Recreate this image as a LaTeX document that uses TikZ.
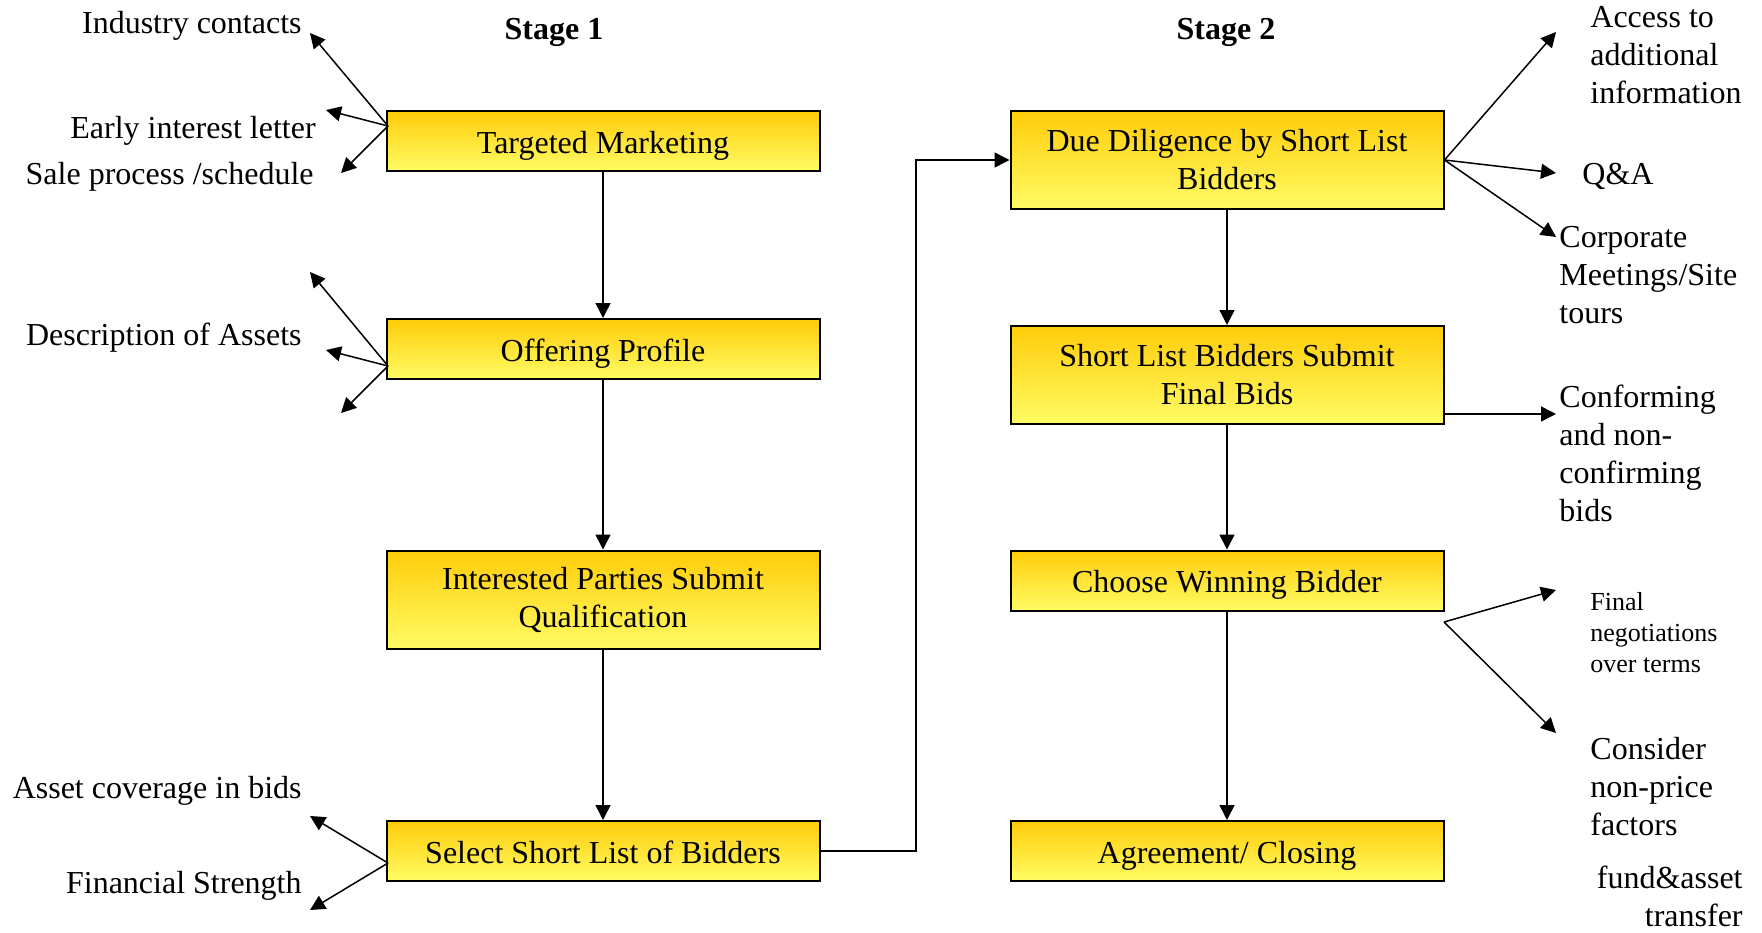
\documentclass[tikz,border=0pt]{standalone}
\usepackage{fontspec}
\setmainfont{Liberation Serif}
\usetikzlibrary{arrows.meta}

\definecolor{boxtop}{RGB}{255,204,10}
\definecolor{boxbot}{RGB}{255,252,100}

\tikzset{
  stepbox/.style={draw, line width=1pt, top color=boxtop, bottom color=boxbot,
    minimum width=216.5pt, minimum height=30pt, inner sep=0pt,
    text height=15.5pt, text depth=3.5pt},
  tallbox/.style={draw, line width=1pt, top color=boxtop, bottom color=boxbot,
    minimum width=216.5pt, minimum height=49pt, align=center, inner sep=0pt},
  lbl/.style={inner sep=0pt, align=left},
  small/.style={lbl, font=\fontsize{13}{15.5}\selectfont},
  arr/.style={-{Triangle[length=7.5pt,width=7.5pt]}, line width=0.75pt},
}

\begin{document}
\begin{tikzpicture}[x=0.5pt, y=-0.5pt, font=\fontsize{16}{19}\selectfont]

      \useasboundingbox (0,0) rectangle (1762,932);

      % Stage headings
      \node[font=\fontsize{16}{19}\bfseries] (st1) at (554,32.5) {Stage 1};
      \node[font=\fontsize{16}{19}\bfseries] (st2) at (1226,32.5) {Stage 2};

      % Stage 1 boxes
      \node[stepbox] (tm) at (603,141) {Targeted Marketing};
      \node[stepbox] (op) at (603,349) {Offering Profile};
      \node[tallbox] (ip) at (603,599.5) {Interested Parties Submit\\Qualification};
      \node[stepbox] (ss) at (603,851) {Select Short List of Bidders};

      % Stage 2 boxes
      \node[tallbox] (dd) at (1227,160) {Due Diligence by Short List\\Bidders};
      \node[tallbox] (sb) at (1227,375) {Short List Bidders Submit\\Final Bids};
      \node[stepbox] (cw) at (1227,580.5) {Choose Winning Bidder};
      \node[stepbox] (ac) at (1227,851) {Agreement/ Closing};

      % Main flow
      \draw[arr] (tm) -- (op);
      \draw[arr] (op) -- (ip);
      \draw[arr] (ip) -- (ss);
      \coordinate (jog) at (916,851);
      \draw[arr] (ss.east) -- (jog) |- (dd.west);
      \draw[arr] (dd) -- (sb);
      \draw[arr] (sb) -- (cw);
      \draw[arr] (cw) -- (ac);

      % Left labels
      \node[lbl, left] (ic) at (302,25.5) {Industry contacts};
      \node[lbl, left] (ei) at (316,130.5) {Early interest letter};
      \node[lbl, left] (sp) at (314,176.5) {Sale process /schedule};
      \node[lbl, left] (da) at (302,337.5) {Description of Assets};
      \node[lbl, left] (cov) at (302,790.5) {Asset coverage in bids};
      \node[lbl, left] (fs) at (302,886) {Financial Strength};

      % Right labels
      \node[lbl, right] (acc) at (1590,55) {Access to\\additional\\information};
      \node[lbl, right] (qa) at (1582,176.5) {Q\&A};
      \node[lbl, right] (cm) at (1559,275) {Corporate\\Meetings/Site\\tours};
      \node[lbl, right] (cf) at (1559,453) {Conforming\\and non-\\confirming\\bids};
      \node[small, right] (fn) at (1590,633) {Final\\negotiations\\over terms};
      \node[lbl, right] (cn) at (1590,787) {Consider\\non-price\\factors};
      \node[lbl, left, align=right] (fa) at (1743,896) {fund\&asset\\transfer};

      % Side arrows, stage 1
      \coordinate (tm-o) at (388,126);
      \coordinate (op-o) at (388,366);
      \coordinate (ss-o) at (388,863);
      \draw[arr] (tm-o) -- (310,33);
      \draw[arr] (tm-o) -- (326,110);
      \draw[arr] (tm-o) -- (341,173);
      \draw[arr] (op-o) -- (310,272);
      \draw[arr] (op-o) -- (326,350);
      \draw[arr] (op-o) -- (341,413);
      \draw[arr] (ss-o) -- (310,816);
      \draw[arr] (ss-o) -- (310,910);

      % Side arrows, stage 2
      \coordinate (sb-o) at (1443.5,414);
      \coordinate (cw-o) at (1444,622);
      \draw[arr] (dd.east) -- (1556,32);
      \draw[arr] (dd.east) -- (1556,173);
      \draw[arr] (dd.east) -- (1556,237);
      \draw[arr] (sb-o) -- (1556,414);
      \draw[arr] (cw-o) -- (1556,590);
      \draw[arr] (cw-o) -- (1556,733);

\end{tikzpicture}
\end{document}
